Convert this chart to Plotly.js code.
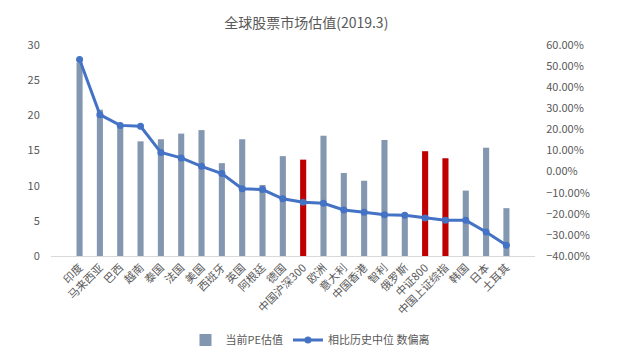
<!DOCTYPE html>
<html><head><meta charset="utf-8">
<script src="https://cdn.plot.ly/plotly-3.0.1.min.js"></script>
<style>html,body{margin:0;padding:0;background:#fff}#c{width:620px;height:359px}</style>
</head><body><div id="c"></div>
<script>
const categories = ["印度","马来西亚","巴西","越南","泰国","法国","美国","西班牙","英国","阿根廷","德国","中国沪深300","欧洲","意大利","中国香港","智利","俄罗斯","中证800","中国上证综指","韩国","日本","土耳其"];
const peValues = [27.5,20.8,18.7,16.3,16.6,17.4,17.9,13.2,16.6,10.1,14.2,13.7,17.1,11.8,10.7,16.5,5.4,14.9,13.9,9.3,15.4,6.8];
const deviation = [0.531,0.270,0.219,0.215,0.091,0.065,0.025,-0.009,-0.081,-0.085,-0.129,-0.145,-0.150,-0.182,-0.193,-0.205,-0.207,-0.220,-0.231,-0.231,-0.286,-0.349];
const highlighted = ["中国沪深300","中证800","中国上证综指"];
const barColors = categories.map(c => highlighted.includes(c) ? "#c00000" : "#8497b0");

const font = {family: "Noto Sans CJK SC, sans-serif", color: "#595959", size: 11};
const data = [
  {type: "bar", name: "当前PE估值", x: categories, y: peValues, width: 0.3,
   marker: {color: barColors}},
  {type: "scatter", mode: "lines+markers", name: "相比历史中位 数偏离", x: categories, y: deviation, yaxis: "y2",
   line: {color: "#4472c4", width: 3}, marker: {color: "#4472c4", size: 7}}
];
const layout = {
  width: 620, height: 359,
  margin: {l: 51, r: 85, t: 45, b: 103},
  paper_bgcolor: "#fff", plot_bgcolor: "#fff",
  font: font,
  title: {text: "全球股票市场估值(2019.3)", x: 0.494, xanchor: "center", y: 0.935, yanchor: "middle",
          font: {family: "Noto Sans CJK SC, sans-serif", size: 14, color: "#595959"}},
  showlegend: true,
  legend: {orientation: "h", x: 0.5, xanchor: "center", xref: "container", y: 0.053, yanchor: "middle", yref: "container",
           font: {size: 11, color: "#595959"}},
  bargap: 0.7,
  xaxis: {type: "category", tickangle: -45, showgrid: false, showline: true, linecolor: "#d9d9d9", linewidth: 1,
          ticks: "", automargin: false, tickfont: {size: 11, color: "#595959"}, fixedrange: true},
  yaxis: {range: [0, 30], dtick: 5, showgrid: false, zeroline: false, showline: false, automargin: false,
          ticks: "outside", ticklen: 8, tickcolor: "rgba(0,0,0,0)", tickfont: {size: 11, color: "#595959"}},
  yaxis2: {overlaying: "y", side: "right", range: [-0.4, 0.6], dtick: 0.1, tickformat: ".2%", automargin: false,
           showgrid: false, zeroline: false, showline: false,
           ticks: "outside", ticklen: 8, tickcolor: "rgba(0,0,0,0)", tickfont: {size: 11, color: "#595959"}}
};
Plotly.newPlot("c", data, layout, {displayModeBar: false, staticPlot: true});
</script></body></html>
